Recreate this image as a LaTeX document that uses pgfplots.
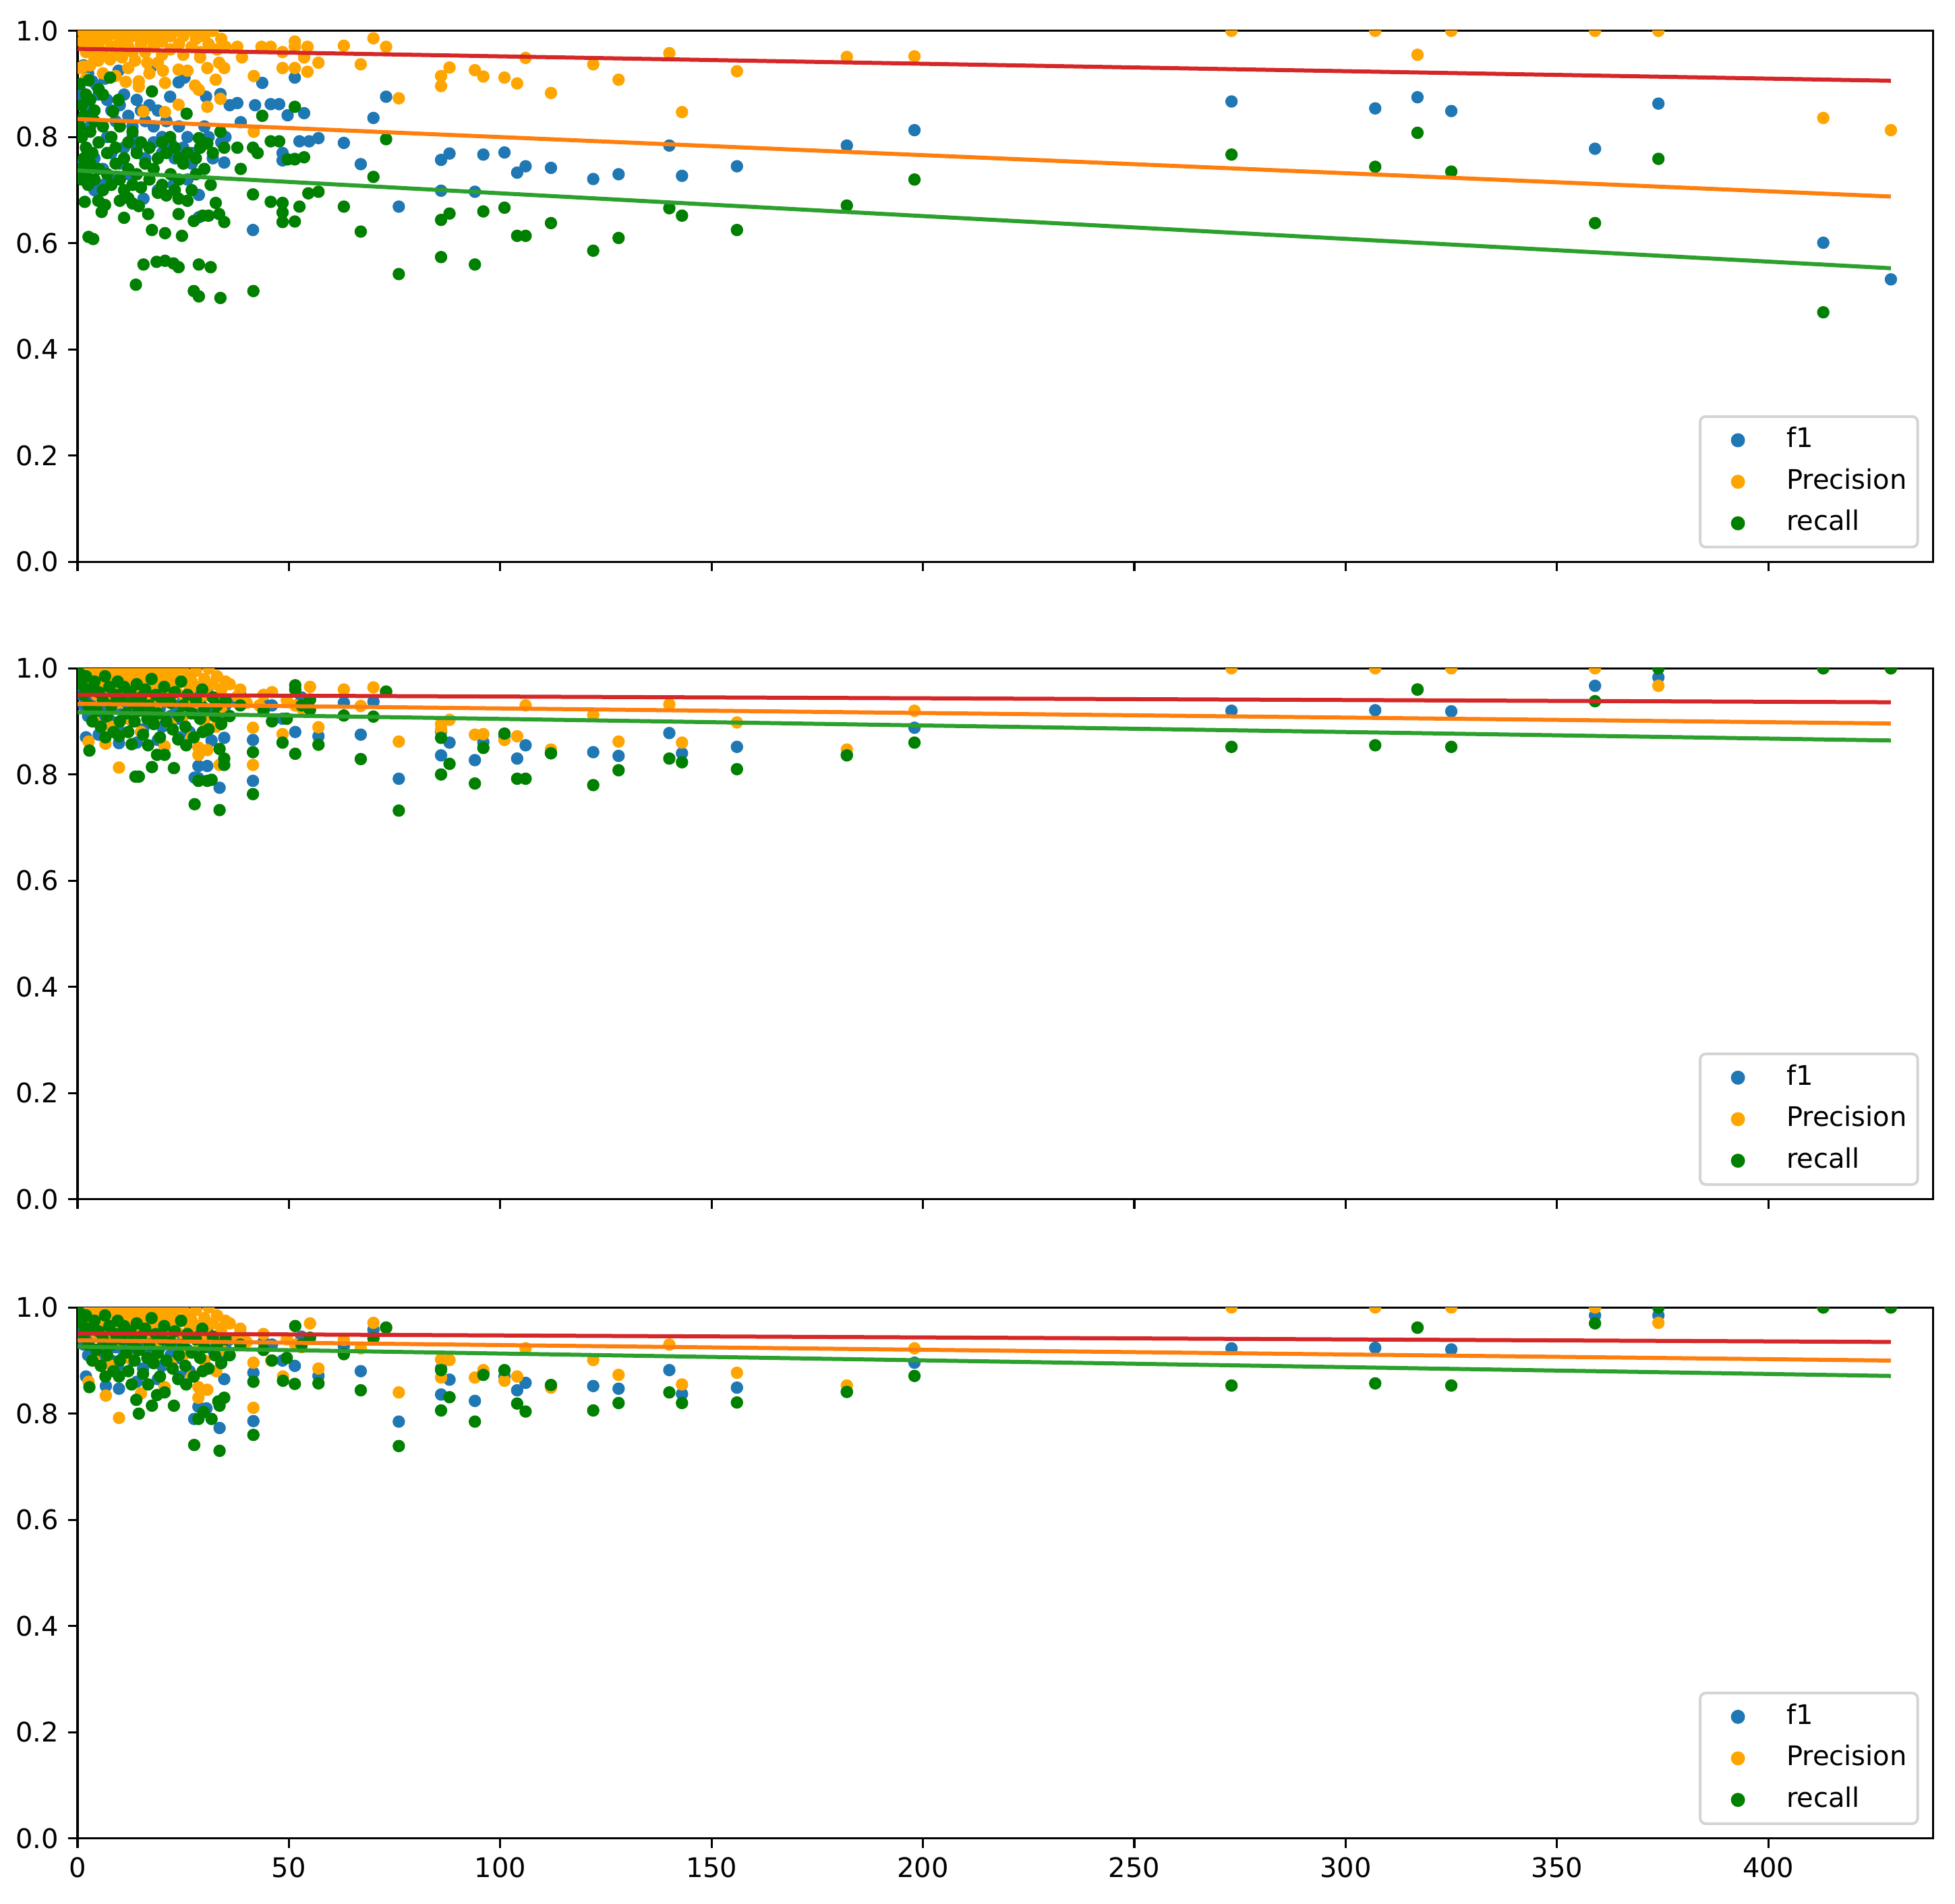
\documentclass[border=0pt]{standalone}
\usepackage{fontspec}
\setmainfont{DejaVu Sans}
\usepackage{pgfplots}
\pgfplotsset{compat=1.18}
\definecolor{cF}{HTML}{1F77B4}
\definecolor{cP}{HTML}{FFA500}
\definecolor{cR}{HTML}{008000}
\definecolor{lR}{HTML}{D62728}
\definecolor{lO}{HTML}{FF7F0E}
\definecolor{lG}{HTML}{2CA02C}
\pgfplotsset{
  panel/.style={scale only axis, width=687.9bp, height=196.9bp,
    xmin=0, xmax=439, ymin=0, ymax=1,
    axis line style={line width=0.8bp},
    tick align=outside, tick pos=left, major tick length=3.5bp,
    every tick/.style={black, line width=0.8bp},
    xtick={0,50,100,150,200,250,300,350,400},
    ytick={0,0.2,0.4,0.6,0.8,1},
    yticklabels={0.0,0.2,0.4,0.6,0.8,1.0},
    tick label style={font=\fontsize{10bp}{12bp}\selectfont},
    clip marker paths=true,
    legend cell align=left,
    legend style={at={(1,0)}, anchor=south east, xshift=-5.25bp, yshift=5bp,
      draw=black!17, line width=1bp, rounded corners=2bp, fill=white,
      font=\fontsize{10bp}{12bp}\selectfont, inner xsep=4bp, inner ysep=1.1bp,
      row sep=0bp, column sep=8bp,
      nodes={inner xsep=0bp, inner ysep=2.9bp, text height=7.5bp, text depth=2.1bp}},
  },
  dot/.style={only marks, mark=*, mark size=2.1bp, color=#1, mark options={draw=none, fill=#1},
    legend image code/.code={\path[draw=none,fill=none] (0bp,-0.1bp) rectangle (20bp,0.1bp); \draw[mark repeat=2,mark phase=2,##1] plot coordinates {(0bp,0bp) (10bp,0bp) (20bp,0bp)};}},
  rl/.style={no marks, line width=1.5bp, color=#1, forget plot},
}
\begin{document}
\begin{tikzpicture}
\path (-28.75bp,-24.1bp) rectangle (696bp,681.7bp);
% ---------------- top panel ----------------
\begin{axis}[panel, at={(0bp,473.35bp)}, anchor=south west, xticklabels={}]
\addplot[dot=cF] coordinates {
(63,0.789)(67,0.749)(70,0.836)(73,0.876)(76,0.669)(86,0.757)(86,0.699)(88,0.769)(94,0.697)(96,0.767)(101,0.771)(104,0.733)(106,0.745)(112,0.742)(122,0.721)(128,0.73)(140,0.784)(143,0.727)(156,0.745)(182,0.784)(198,0.813)(273,0.867)(307,0.854)(317,0.875)(325,0.849)(359,0.778)(374,0.863)(413,0.601)(429,0.532)
(9.7,0.925)(43.7,0.902)(51.4,0.912)(37.8,0.864)(42,0.86)(45.7,0.862)(47.7,0.862)(49.7,0.841)(53.6,0.845)(38.6,0.828)(52.5,0.792)(54.8,0.792)(57,0.798)(48.5,0.77)(48.5,0.756)(51.4,0.759)(34.7,0.752)(41.5,0.625)(28.7,0.691)(28.7,0.649)(22.7,0.71)(15.6,0.684)(33.8,0.881)(30.4,0.876)(21.9,0.876)(25.3,0.912)(23.9,0.903)(17.3,0.931)
(1.4,0.935)(2.5,0.92)(3.5,0.905)(4.5,0.897)(6.5,0.91)(0.5,0.89)(1,0.87)(2,0.86)(3,0.85)(5,0.88)(7,0.87)(8,0.85)(9,0.83)(10,0.86)(11,0.88)(12,0.84)(13,0.82)(14,0.87)(15,0.85)(16,0.83)(17,0.86)(18,0.82)(19,0.85)(20,0.8)(21,0.83)(13,0.8)(14,0.78)(16,0.76)(18,0.79)(20,0.77)(22,0.79)(23,0.76)(24,0.82)(25,0.78)(26,0.8)(27,0.77)(27,0.75)(1,0.8)(2,0.78)(3,0.82)(4,0.76)(5,0.79)(6,0.74)(7,0.8)(8,0.77)(9,0.72)(10,0.75)(11,0.78)(12,0.73)(1,0.75)(2,0.72)(4,0.7)(6,0.71)(19,0.7)(26,0.72)(29,0.78)(31,0.8)(32,0.76)(30,0.82)(34,0.79)(36,0.86)(35,0.8)
};
\addlegendentry{f1}
\addplot[dot=cP] coordinates {
(63,0.972)(67,0.937)(70,0.986)(73,0.97)(76,0.873)(86,0.915)(86,0.896)(88,0.931)(94,0.926)(96,0.914)(101,0.912)(104,0.901)(106,0.949)(112,0.883)(122,0.937)(128,0.908)(140,0.958)(143,0.847)(156,0.924)(182,0.951)(198,0.952)(273,1.0)(307,1.0)(317,0.955)(325,1.0)(359,1.0)(374,1.0)(413,0.836)(429,0.813)
(1,1.0)(1,0.98)(2,0.99)(2,0.96)(3,1.0)(3,0.97)(4,0.99)(4,0.95)(5,1.0)(5,0.975)(6,0.99)(6,0.96)(7,1.0)(7,0.985)(8,0.97)(8,0.995)(9,1.0)(9,0.955)(10,0.98)(10,0.99)(11,1.0)(11,0.965)(12,0.985)(12,0.97)(13,1.0)(13,0.96)(14,0.99)(15,1.0)(15,0.975)(16,0.985)(16,0.96)(17,1.0)(18,0.97)(18,0.99)(19,1.0)(20,0.98)(20,0.955)(21,1.0)(22,0.99)(22,0.965)(23,1.0)(24,0.975)(25,0.99)(25,0.955)(26,1.0)(27,0.97)(28,0.985)(28,1.0)(29,0.96)(30,0.99)(31,0.975)(32,1.0)(33,0.965)(34,0.985)(35,0.97)
(1.4,0.933)(4.9,0.944)(7.7,0.946)(10.5,0.95)(13.6,0.944)(16.5,0.94)(20.2,0.925)(20.7,0.902)(23.9,0.927)(11.4,0.904)(14.5,0.905)(14.5,0.895)(27.8,0.897)(28.7,0.889)(32.7,0.908)(33.8,0.872)(30.7,0.857)(23.9,0.861)(20.7,0.847)(15.6,0.848)(33.5,0.94)(34.7,0.93)(30.7,0.93)(41.7,0.915)(41.7,0.81)(37.8,0.97)(38.9,0.95)(43.5,0.97)(45.7,0.97)(48.5,0.96)(48.5,0.93)(51.4,0.98)(51.4,0.97)(51.4,0.93)(53.6,0.95)(54.4,0.97)(54.4,0.923)(57,0.94)(0.5,0.93)(2,0.91)(3,0.935)(6,0.92)(9,0.915)(12,0.93)(17,0.92)(19,0.94)(26,0.925)(29,0.95)
};
\addlegendentry{Precision}
\addplot[dot=cR] coordinates {
(63,0.669)(67,0.622)(70,0.725)(73,0.796)(76,0.542)(86,0.644)(86,0.574)(88,0.656)(94,0.56)(96,0.66)(101,0.667)(104,0.614)(106,0.614)(112,0.638)(122,0.586)(128,0.61)(140,0.666)(143,0.652)(156,0.625)(182,0.671)(198,0.72)(273,0.767)(307,0.744)(317,0.808)(325,0.735)(359,0.638)(374,0.759)(413,0.47)
(7.7,0.912)(2.6,0.907)(5,0.89)(6,0.88)(17.6,0.886)(9.7,0.87)(51.4,0.857)(43.7,0.84)(25.8,0.844)(8.4,0.848)(21.9,0.80)(28.7,0.798)(33.8,0.81)(30.7,0.788)(34.7,0.78)(37.8,0.78)(41.5,0.78)(42.6,0.77)(45.7,0.792)(47.7,0.792)(49.7,0.758)(51.4,0.758)(53.6,0.762)(38.6,0.74)(54.6,0.694)(57,0.697)(52.5,0.669)(48.5,0.676)(48.5,0.658)(48.5,0.64)(51.4,0.641)(45.7,0.678)(41.5,0.692)(31.5,0.71)(32.7,0.676)(33.5,0.655)(34.7,0.64)(27.5,0.642)(29.6,0.652)(31,0.652)(23.9,0.684)(23.9,0.655)(24.7,0.614)(20.7,0.619)(17.6,0.625)(11,0.648)(5.7,0.659)(1.7,0.678)(4.9,0.68)(6.5,0.672)(10,0.68)(12,0.685)(13,0.675)(14.5,0.67)(16.7,0.655)(19,0.695)(21,0.69)(23,0.7)(26,0.68)
(0.5,0.74)(1,0.72)(1.5,0.76)(2,0.73)(2.5,0.71)(3,0.75)(4,0.72)(5,0.74)(6,0.7)(7,0.73)(8,0.71)(9,0.75)(10,0.72)(11,0.7)(12,0.74)(13,0.71)(14,0.73)(15,0.705)(17,0.72)(18,0.74)(20,0.71)(22,0.73)(24,0.72)(25,0.75)(27,0.7)(28,0.73)(30,0.74)
(0.5,0.82)(1,0.8)(1.5,0.84)(2,0.78)(3,0.81)(3.5,0.77)(4,0.83)(5,0.79)(6,0.82)(7,0.77)(8,0.8)(9,0.78)(10,0.82)(11,0.76)(12,0.79)(13,0.81)(14,0.77)(15,0.79)(16,0.75)(17,0.78)(19,0.76)(20,0.79)(21,0.77)(23,0.78)(24,0.76)(26,0.77)(28,0.76)(29,0.78)(32,0.77)
(1,0.86)(2,0.88)(3,0.87)(4,0.85)(0.5,0.9)
(2.6,0.612)(3.7,0.608)(15.6,0.56)(18.7,0.565)(20.7,0.567)(22.7,0.562)(23.9,0.555)(28.7,0.56)(31.5,0.555)(13.8,0.522)(27.5,0.51)(28.7,0.5)(33.8,0.497)(41.6,0.51)
};
\addlegendentry{recall}
\addplot[rl=lR] coordinates {(0,0.966)(429,0.906)};
\addplot[rl=lO] coordinates {(0,0.834)(429,0.688)};
\addplot[rl=lG] coordinates {(0,0.737)(429,0.553)};
\end{axis}
% ---------------- middle panel ----------------
\begin{axis}[panel, at={(0bp,237bp)}, anchor=south west, xticklabels={}]
\addplot[dot=cF] coordinates {
(57,0.872)(63,0.935)(67,0.875)(70,0.937)(73,0.956)(76,0.792)(86,0.881)(86,0.836)(88,0.86)(94,0.827)(96,0.861)(101,0.871)(104,0.83)(106,0.855)(112,0.84)(122,0.842)(128,0.835)(140,0.878)(143,0.84)(156,0.852)(182,0.837)(198,0.888)(273,0.92)(307,0.921)(317,0.96)(325,0.919)(359,0.967)(374,0.983)(413,1.0)(429,1.0)
(9.8,0.859)(27.7,0.794)(28.6,0.816)(28.6,0.793)(30.7,0.816)(31.7,0.864)(33.6,0.775)(34.7,0.869)(41.5,0.865)(41.5,0.788)(51.5,0.88)(48.5,0.905)(46,0.93)(44,0.935)(53,0.945)(38.5,0.95)(36,0.94)(2,0.87)(5,0.875)(14,0.86)(19,0.865)(24,0.87)
(0.5,0.97)(1,0.95)(1.5,0.93)(2,0.96)(2.5,0.91)(3,0.94)(3.5,0.98)(4,0.92)(4.5,0.95)(5,0.9)(5.5,0.96)(6,0.935)(6.5,0.915)(7,0.97)(7.5,0.94)(8,0.9)(8.5,0.955)(9,0.925)(9.5,0.89)(10,0.945)(11,0.91)(11.5,0.965)(12,0.93)(13,0.9)(13.5,0.95)(14,0.92)(15,0.94)(15.5,0.885)(16,0.96)(17,0.915)(17.5,0.935)(18,0.9)(19,0.95)(19.5,0.925)(20,0.89)(21,0.94)(22,0.91)(22.5,0.96)(23,0.93)(24,0.905)(25,0.945)(26,0.92)(26.5,0.88)(27,0.955)(28,0.915)(29,0.935)(30,0.9)(31,0.95)(32,0.92)(33,0.94)(34,0.905)(35,0.93)
};
\addlegendentry{f1}
\addplot[dot=cP] coordinates {
(55,0.965)(57,0.889)(63,0.96)(67,0.929)(70,0.964)(73,0.956)(76,0.862)(86,0.895)(86,0.885)(88,0.903)(94,0.875)(96,0.876)(101,0.865)(104,0.872)(106,0.93)(112,0.847)(122,0.912)(128,0.862)(140,0.932)(143,0.86)(156,0.898)(182,0.847)(198,0.92)(273,1.0)(307,1.0)(317,0.96)(325,1.0)(359,1.0)(374,0.967)(413,1.0)(429,1.0)
(2.6,0.862)(6.6,0.858)(9.8,0.813)(20.6,0.853)(28.6,0.851)(28.6,0.837)(30.7,0.846)(32.8,0.89)(33.6,0.818)(37.8,0.947)(41.5,0.888)(41.5,0.818)(48.5,0.876)(44,0.95)(46,0.955)(49.5,0.94)(51.5,0.93)(53,0.925)(38.5,0.96)(40,0.935)(43,0.93)(36,0.97)(4,0.9)(8,0.89)(12,0.905)(15,0.88)(18,0.9)(22,0.895)(25,0.91)(27,0.87)(30,0.9)(34,0.92)
(0.5,1.0)(1,0.99)(1.5,0.97)(2,1.0)(2.5,0.98)(3,0.96)(3.5,0.995)(4,0.975)(4.5,0.95)(5,1.0)(5.5,0.985)(6,0.965)(6.5,0.94)(7,0.99)(7.5,1.0)(8,0.97)(8.5,0.955)(9,0.985)(9.5,0.935)(10,1.0)(10.5,0.965)(11,0.98)(11.5,0.95)(12,0.995)(12.5,0.97)(13,0.94)(13.5,0.985)(14,1.0)(14.5,0.96)(15,0.975)(15.5,0.99)(16,0.945)(16.5,0.97)(17,1.0)(17.5,0.985)(18,0.955)(18.5,0.93)(19,0.975)(19.5,0.995)(20,0.96)(21,0.98)(21.5,1.0)(22,0.945)(22.5,0.97)(23,0.99)(23.5,0.955)(24,0.975)(25,1.0)(25.5,0.94)(26,0.985)(26.5,0.96)(27,0.975)(28,0.995)(28.5,0.935)(29,0.965)(30,0.98)(30.5,0.95)(31,1.0)(32,0.97)(32.5,0.945)(33,0.985)(34,0.96)(35,0.975)
};
\addlegendentry{Precision}
\addplot[dot=cR] coordinates {
(55,0.941)(55,0.922)(57,0.856)(63,0.911)(67,0.829)(70,0.909)(73,0.956)(76,0.732)(86,0.869)(86,0.80)(88,0.82)(94,0.783)(96,0.85)(101,0.877)(104,0.792)(106,0.792)(112,0.84)(122,0.78)(128,0.808)(140,0.83)(143,0.823)(156,0.81)(182,0.836)(198,0.86)(273,0.852)(307,0.855)(317,0.96)(325,0.852)(359,0.938)(374,1.0)(413,1.0)(429,1.0)
(2.8,0.845)(6.6,0.87)(9.8,0.872)(12.8,0.857)(13.7,0.796)(14.5,0.796)(16.7,0.855)(17.6,0.814)(18.8,0.837)(20.6,0.837)(22.8,0.812)(23.8,0.866)(25.7,0.855)(27.7,0.744)(28.6,0.788)(30.7,0.788)(31.7,0.79)(29.6,0.88)(33.6,0.848)(33.6,0.733)(34.7,0.83)(34.7,0.818)(41.5,0.842)(41.5,0.763)(48.5,0.86)(51.5,0.839)(51.5,0.968)(51.5,0.96)(44,0.92)(46,0.9)(38.5,0.93)(36,0.91)(49.5,0.905)(53,0.93)
(0.5,0.99)(1,0.97)(1.5,0.95)(2,0.985)(2.5,0.93)(3,0.96)(3.5,0.9)(4,0.975)(4.5,0.92)(5,0.955)(5.5,0.89)(6,0.94)(6.5,0.985)(7,0.91)(7.5,0.965)(8,0.93)(8.5,0.88)(9,0.95)(9.5,0.975)(10,0.9)(10.5,0.94)(11,0.965)(11.5,0.915)(12,0.88)(12.5,0.955)(13,0.935)(13.5,0.9)(14,0.97)(14.5,0.92)(15,0.945)(15.5,0.875)(16,0.96)(16.5,0.905)(17,0.93)(17.5,0.98)(18,0.895)(18.5,0.95)(19,0.915)(19.5,0.87)(20,0.94)(20.5,0.965)(21,0.9)(22,0.935)(22.5,0.885)(23,0.955)(24,0.91)(24.5,0.975)(25,0.93)(25.5,0.89)(26,0.95)(27,0.915)(27.5,0.87)(28,0.94)(29,0.905)(29.5,0.96)(30,0.925)(31,0.885)(32,0.945)(32.5,0.91)(33,0.93)(34,0.895)(35,0.94)
};
\addlegendentry{recall}
\addplot[rl=lR] coordinates {(0,0.950)(429,0.936)};
\addplot[rl=lO] coordinates {(0,0.933)(429,0.896)};
\addplot[rl=lG] coordinates {(0,0.917)(429,0.864)};
\end{axis}
% ---------------- bottom panel ----------------
\begin{axis}[panel, at={(0bp,0bp)}, anchor=south west,
  xticklabels={0,50,100,150,200,250,300,350,400}]
\addplot[dot=cF] coordinates {
(57,0.871)(63,0.927)(67,0.880)(70,0.958)(73,0.962)(76,0.785)(86,0.885)(86,0.836)(88,0.864)(94,0.824)(96,0.877)(101,0.87)(104,0.844)(106,0.858)(112,0.851)(122,0.852)(128,0.847)(140,0.882)(143,0.837)(156,0.849)(182,0.841)(198,0.896)(273,0.923)(307,0.924)(317,0.962)(325,0.921)(359,0.985)(374,0.985)(413,1.0)(429,1.0)
(6.7,0.852)(9.8,0.847)(27.6,0.79)(28.6,0.813)(30.5,0.81)(33.6,0.773)(34.7,0.865)(41.6,0.877)(41.6,0.786)(51.4,0.89)(48.5,0.9)(46,0.93)(44,0.935)(53,0.945)(38.5,0.95)(36,0.94)(2,0.87)(14,0.86)(19,0.865)(24,0.87)
(0.5,0.97)(1,0.95)(1.5,0.93)(2,0.96)(2.5,0.91)(3,0.94)(3.5,0.98)(4,0.92)(4.5,0.95)(5,0.9)(5.5,0.96)(6,0.935)(6.5,0.915)(7,0.97)(7.5,0.94)(8,0.9)(8.5,0.955)(9,0.925)(9.5,0.89)(10,0.945)(11,0.91)(11.5,0.965)(12,0.93)(13,0.9)(13.5,0.95)(14,0.92)(15,0.94)(15.5,0.885)(16,0.96)(17,0.915)(17.5,0.935)(18,0.9)(19,0.95)(19.5,0.925)(20,0.89)(21,0.94)(22,0.91)(22.5,0.96)(23,0.93)(24,0.905)(25,0.945)(26,0.92)(26.5,0.88)(27,0.955)(28,0.915)(29,0.935)(30,0.9)(31,0.95)(32,0.92)(33,0.94)(34,0.905)(35,0.93)
};
\addlegendentry{f1}
\addplot[dot=cP] coordinates {
(55,0.970)(57,0.885)(63,0.939)(67,0.923)(70,0.971)(73,0.962)(76,0.840)(86,0.902)(86,0.868)(88,0.901)(94,0.868)(96,0.882)(101,0.862)(104,0.870)(106,0.923)(112,0.849)(122,0.901)(128,0.873)(140,0.930)(143,0.855)(156,0.877)(182,0.853)(198,0.923)(273,1.0)(307,1.0)(317,0.962)(325,1.0)(359,1.0)(374,0.971)(413,1.0)(429,1.0)
(2.6,0.86)(6.7,0.834)(9.8,0.792)(15,0.838)(20.6,0.85)(28.6,0.85)(28.6,0.83)(30.7,0.845)(32.8,0.88)(33.6,0.82)(37.8,0.94)(41.6,0.896)(41.6,0.811)(45.8,0.9)(48.6,0.87)(44,0.95)(49.5,0.94)(51.5,0.93)(53,0.925)(38.5,0.96)(40,0.935)(36,0.97)(4,0.9)(8,0.89)(12,0.905)(18,0.9)(22,0.895)(25,0.91)(27,0.87)(30,0.9)(34,0.92)
(0.5,1.0)(1,0.99)(1.5,0.97)(2,1.0)(2.5,0.98)(3,0.96)(3.5,0.995)(4,0.975)(4.5,0.95)(5,1.0)(5.5,0.985)(6,0.965)(6.5,0.94)(7,0.99)(7.5,1.0)(8,0.97)(8.5,0.955)(9,0.985)(9.5,0.935)(10,1.0)(10.5,0.965)(11,0.98)(11.5,0.95)(12,0.995)(12.5,0.97)(13,0.94)(13.5,0.985)(14,1.0)(14.5,0.96)(15,0.975)(15.5,0.99)(16,0.945)(16.5,0.97)(17,1.0)(17.5,0.985)(18,0.955)(18.5,0.93)(19,0.975)(19.5,0.995)(20,0.96)(21,0.98)(21.5,1.0)(22,0.945)(22.5,0.97)(23,0.99)(23.5,0.955)(24,0.975)(25,1.0)(25.5,0.94)(26,0.985)(26.5,0.96)(27,0.975)(28,0.995)(28.5,0.935)(29,0.965)(30,0.98)(30.5,0.95)(31,1.0)(32,0.97)(32.5,0.945)(33,0.985)(34,0.96)(35,0.975)
};
\addlegendentry{Precision}
\addplot[dot=cR] coordinates {
(55,0.943)(57,0.857)(63,0.912)(67,0.844)(70,0.942)(73,0.962)(76,0.739)(86,0.882)(86,0.806)(88,0.831)(94,0.785)(96,0.873)(101,0.882)(104,0.819)(106,0.804)(112,0.854)(122,0.806)(128,0.820)(140,0.840)(143,0.820)(156,0.821)(182,0.841)(198,0.871)(273,0.853)(307,0.857)(317,0.962)(325,0.853)(359,0.970)(374,1.0)(413,1.0)(429,1.0)
(2.8,0.85)(6.6,0.87)(9.8,0.87)(12.8,0.855)(13.9,0.826)(14.5,0.8)(16.7,0.855)(17.6,0.815)(18.8,0.835)(20.6,0.84)(22.8,0.815)(23.8,0.865)(25.7,0.855)(27.6,0.741)(28.6,0.79)(29.8,0.803)(31.7,0.79)(29.6,0.88)(33.3,0.823)(33.6,0.815)(33.6,0.73)(34.7,0.83)(41.6,0.86)(41.6,0.76)(48.6,0.862)(51.4,0.856)(51.5,0.965)(44,0.92)(46,0.9)(38.5,0.93)(36,0.91)(49.5,0.905)(53,0.93)
(0.5,0.99)(1,0.97)(1.5,0.95)(2,0.985)(2.5,0.93)(3,0.96)(3.5,0.9)(4,0.975)(4.5,0.92)(5,0.955)(5.5,0.89)(6,0.94)(6.5,0.985)(7,0.91)(7.5,0.965)(8,0.93)(8.5,0.88)(9,0.95)(9.5,0.975)(10,0.9)(10.5,0.94)(11,0.965)(11.5,0.915)(12,0.88)(12.5,0.955)(13,0.935)(13.5,0.9)(14,0.97)(14.5,0.92)(15,0.945)(15.5,0.875)(16,0.96)(16.5,0.905)(17,0.93)(17.5,0.98)(18,0.895)(18.5,0.95)(19,0.915)(19.5,0.87)(20,0.94)(20.5,0.965)(21,0.9)(22,0.935)(22.5,0.885)(23,0.955)(24,0.91)(24.5,0.975)(25,0.93)(25.5,0.89)(26,0.95)(27,0.915)(27.5,0.87)(28,0.94)(29,0.905)(29.5,0.96)(30,0.925)(31,0.885)(32,0.945)(32.5,0.91)(33,0.93)(34,0.895)(35,0.94)
};
\addlegendentry{recall}
\addplot[rl=lR] coordinates {(0,0.951)(429,0.935)};
\addplot[rl=lO] coordinates {(0,0.938)(429,0.900)};
\addplot[rl=lG] coordinates {(0,0.926)(429,0.871)};
\end{axis}
\end{tikzpicture}
\end{document}
